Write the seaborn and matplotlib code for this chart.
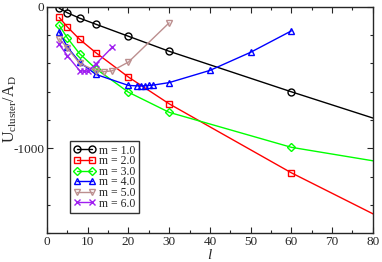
import numpy as np
import pandas as pd
import matplotlib
matplotlib.use("Agg")
import matplotlib.pyplot as plt
from matplotlib.ticker import MultipleLocator
import seaborn as sns

# data (points at l=100 only set the line slope past l=80)
l_m1 = [3, 5, 8, 12, 20, 30, 60, 100]
u_m1 = [-10, -42, -80, -123, -208, -314, -600, -970]

l_m2 = [3, 5, 8, 12, 20, 30, 60, 100]
u_m2 = [-75, -142, -229, -324, -496, -685, -1172, -1750]

l_m3 = [3, 5, 8, 12, 20, 30, 60, 100]
u_m3 = [-130, -220, -331, -437, -603, -745, -992, -1182]

l_m4 = [3, 5, 8, 12, 20, 22, 23, 24, 25, 26, 30, 40, 50, 60]
u_m4 = [-177, -284, -390, -477, -555, -558, -558, -558, -555, -553, -535, -449, -321, -170]

l_m5 = [3, 5, 8, 12, 14, 16, 20, 30]
u_m5 = [-225, -290, -400, -450, -458, -452, -390, -113]

l_m6 = [3, 5, 8, 9, 10, 12, 16]
u_m6 = [-265, -345, -450, -455, -455, -404, -286]

series = [
    ("m = 1.0", l_m1, u_m1, "black", "o"),
    ("m = 2.0", l_m2, u_m2, "red", "s"),
    ("m = 3.0", l_m3, u_m3, "#00ff00", "D"),
    ("m = 4.0", l_m4, u_m4, "blue", "^"),
    ("m = 5.0", l_m5, u_m5, "#bc8f8f", "v"),
    ("m = 6.0", l_m6, u_m6, "#a020f0", "x"),
]

sns.set_style("ticks")
plt.rcParams["font.family"] = ["Liberation Serif", "DejaVu Serif"]
plt.rcParams["mathtext.fontset"] = "custom"
plt.rcParams["mathtext.rm"] = "Liberation Serif"
plt.rcParams["mathtext.it"] = "Liberation Serif:italic"
plt.rcParams["axes.unicode_minus"] = False

fig = plt.figure(figsize=(3.82, 2.62), dpi=100)
ax = fig.add_axes([0.123, 0.109, 0.853, 0.865])

for label, xs, ys, col, mk in series:
    df = pd.DataFrame({"l": xs, "u": ys})
    ms = 4.5 if mk == "D" else 5
    sns.lineplot(data=df, x="l", y="u", ax=ax, color=col, linewidth=1.0,
                 marker=mk, markersize=ms, markerfacecolor="none",
                 markeredgecolor=col, markeredgewidth=1.0, sort=False,
                 label=label)

ax.set_xlim(0, 80)
ax.set_ylim(-1600, 0)
ax.xaxis.set_major_locator(MultipleLocator(10))
ax.xaxis.set_minor_locator(MultipleLocator(5))
ax.yaxis.set_major_locator(MultipleLocator(1000))
ax.yaxis.set_minor_locator(MultipleLocator(200))
ax.tick_params(which="both", direction="in", top=True, right=True,
               labelsize=9.5, width=0.8, pad=2)
ax.tick_params(which="major", length=4)
ax.tick_params(which="minor", length=2.5)
for sp in ax.spines.values():
    sp.set_linewidth(1.0)

ax.set_xlabel(r"$\mathit{l}$", fontsize=11, labelpad=0)
ax.set_ylabel(r"$\mathrm{U_{cluster}/A_D}$", fontsize=11.5)
ax.yaxis.set_label_coords(-0.085, 0.55)

leg = ax.legend(loc="lower left", bbox_to_anchor=(0.07, 0.09), fontsize=8.5,
                frameon=True, fancybox=False, edgecolor="black", numpoints=2,
                labelspacing=-0.12, handlelength=1.9, handletextpad=0.3,
                borderpad=0.3, borderaxespad=0)
leg.get_frame().set_linewidth(1.0)

fig.savefig("out.png", dpi=100)
